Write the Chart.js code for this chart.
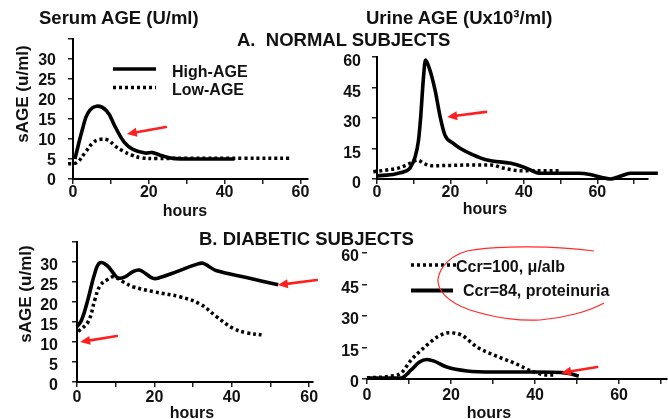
<!DOCTYPE html>
<html><head><meta charset="utf-8">
<title>Serum and urine AGE</title>
<script src="https://cdn.jsdelivr.net/npm/chart.js@4/dist/chart.umd.min.js"></script>
<style>
html,body{margin:0;padding:0;background:#fff;}
#page{position:relative;width:668px;height:419px;overflow:hidden;background:#fff;font-family:"Liberation Sans",Arial,Helvetica,sans-serif;font-weight:bold;color:#111;}
.t{position:absolute;white-space:pre;line-height:1;}
.c{position:absolute;}
.c canvas{display:block;}
#ov{position:absolute;left:0;top:0;}
</style></head><body>
<div id="page">
  <div class="c" style="left:0px;top:30px;width:330px;height:180px"><canvas id="cA1" width="330" height="180"></canvas></div>
  <div class="c" style="left:334px;top:40px;width:334px;height:170px"><canvas id="cA2" width="334" height="170"></canvas></div>
  <div class="c" style="left:0px;top:228px;width:334px;height:184px"><canvas id="cB1" width="334" height="184"></canvas></div>
  <div class="c" style="left:334px;top:238px;width:334px;height:172px"><canvas id="cB2" width="334" height="172"></canvas></div>

  <svg id="ov" width="668" height="419">
    <line id="lgA1" x1="113" y1="69" x2="156" y2="69" stroke="#000" stroke-width="3.5"/>
    <line id="lgA2" x1="113" y1="87.5" x2="156" y2="87.5" stroke="#000" stroke-width="3.5" stroke-dasharray="3 3"/>
    <line id="lgB1" x1="411" y1="265" x2="456" y2="265" stroke="#000" stroke-width="3.5" stroke-dasharray="3 3"/>
    <line id="lgB2" x1="411" y1="290.5" x2="453" y2="290.5" stroke="#000" stroke-width="4"/>
    <path d="M594,251 C560,246 495,245 467,251 C452,255 440,266 438,279 C437,290 447,302 470,310 C495,318 520,321 540,320 C565,318 590,311 604,303" fill="none" stroke="#ff2a2a" stroke-width="1.2"/>
  </svg>

  <div class="t" style="left:39px;top:9.3px;font-size:18.5px">Serum AGE (U/ml)</div>
  <div class="t" style="left:366px;top:9.3px;font-size:18.5px">Urine AGE (Ux10³/ml)</div>
  <div class="t" style="left:237px;top:31.3px;font-size:18.5px">A.  NORMAL SUBJECTS</div>
  <div class="t" style="left:199px;top:230.3px;font-size:18.5px">B. DIABETIC SUBJECTS</div>

  <div class="t" style="left:21.5px;top:93.5px;font-size:17px;transform:translate(-50%,-50%) rotate(-90deg)">sAGE (u/ml)</div>
  <div class="t" style="left:25px;top:294px;font-size:17px;transform:translate(-50%,-50%) rotate(-90deg)">sAGE (u/ml)</div>

  <div class="t" style="left:185px;top:202.5px;font-size:16px;transform:translateX(-50%)">hours</div>
  <div class="t" style="left:485px;top:200.5px;font-size:16px;transform:translateX(-50%)">hours</div>
  <div class="t" style="left:192px;top:404.5px;font-size:16px;transform:translateX(-50%)">hours</div>
  <div class="t" style="left:489px;top:404.5px;font-size:16px;transform:translateX(-50%)">hours</div>

  <div class="t" id="lgTA1" style="left:172px;top:63.5px;font-size:16px"></div>
  <div class="t" id="lgTA2" style="left:172px;top:82px;font-size:16px"></div>
  <div class="t" id="lgTB1" style="left:456px;top:258.5px;font-size:16px"></div>
  <div class="t" id="lgTB2" style="left:463px;top:282.5px;font-size:16px"></div>
</div>
<script>
// ---------- DATA ----------
const normalSeriesNames = ['High-AGE', 'Low-AGE'];
const diabeticUrineSeriesNames = ['Ccr=100, \u03bc/alb', 'Ccr=84, proteinuria'];

const xTickLabels = ['0', '20', '40', '60'];
const serumYTickLabels = ['0', '5', '10', '15', '20', '25', '30'];
const urineYTickLabels = ['0', '15', '30', '45', '60'];

// A. Normal subjects - serum AGE (u/ml)
const serumNormalHighHours = [0.5, 2.6, 4.0, 6.2, 8.9, 11.0, 13.5, 15.8, 19.0, 21.0, 23.5, 27, 32, 42.6];
const serumNormalHigh      = [5, 12.8, 16.6, 18.2, 17, 13.3, 9.2, 7.4, 6.5, 6.6, 5.8, 5.1, 5, 5];
const serumNormalLowHours  = [-1.3, 1, 3.2, 5.3, 7.1, 9.3, 11, 13.2, 15.4, 18, 22, 30, 45, 57.6];
const serumNormalLow       = [3.8, 4.1, 6.6, 9.1, 9.9, 9.7, 8.3, 7, 6, 5.3, 5.1, 5.2, 5.2, 5.2];

// A. Normal subjects - urine AGE (U x 10^3/ml)
const urineNormalHighHours = [0, 5, 8, 9, 10.4, 11.3, 11.9, 12.6, 13.2, 14.4, 15.8, 17.2, 18.5, 20.7, 22.6, 26, 30, 36.4, 40, 41.9, 44.1, 48, 55, 58, 61, 63.6, 66, 69, 73, 76.5];
const urineNormalHigh      = [1.5, 2.5, 4, 5.4, 11, 19, 30.6, 48.7, 58.5, 53.6, 43.8, 30.6, 21.6, 17.6, 15.1, 12, 9.3, 7.7, 5.8, 4.4, 2.8, 2.8, 2.8, 2.2, 0.8, 0, 1.2, 2.8, 2.8, 2.8];
const urineNormalLowHours  = [-1, 3, 6, 9, 11, 13, 15.3, 20, 26, 31, 34.3, 38, 42, 50];
const urineNormalLow       = [3.6, 4.5, 5.5, 7.7, 9.3, 7.4, 6.5, 6.7, 6.9, 6.9, 5.4, 4.2, 4.0, 4.0];

// B. Diabetic subjects - serum AGE (u/ml)
const serumDiabHighHours = [0, 1.2, 2.9, 4.6, 5.9, 7.7, 9.4, 10.6, 12.4, 14.5, 16.1, 17.6, 19.7, 21.4, 25.8, 30.9, 32.6, 34.4, 36.1, 43.8, 52];
const serumDiabHigh      = [13.8, 15.5, 20.9, 27.2, 29.8, 29.2, 27.2, 26, 26.3, 27.6, 28, 27.2, 25.9, 26.1, 27.6, 29.4, 29.7, 28.7, 27.8, 26.1, 24.3];
const serumDiabLowHours  = [0.3, 2.9, 4.6, 5.9, 7.7, 9.4, 12, 14.5, 19.7, 26.6, 31.8, 36.1, 40.4, 43.8, 47.7];
const serumDiabLow       = [12.6, 15.1, 20.5, 24, 25.5, 26.3, 25, 23.8, 22.6, 21.3, 19.5, 16.3, 13.4, 12.3, 11.8];

// B. Diabetic subjects - urine AGE
const urineDiabCcr100Hours = [0, 5.7, 8.1, 10.5, 13.6, 16.7, 19.5, 22.4, 26.2, 30.2, 35, 39.8, 42.9, 45];
const urineDiabCcr100      = [0.5, 1.4, 2.8, 9, 15, 20, 22, 21, 15.2, 11.4, 7.6, 3.3, 1.9, 1.9];
const urineDiabCcr84Hours  = [0, 8.1, 10.5, 12.4, 14.3, 16, 19, 23.8, 30.2, 39.8, 47.6, 50.4];
const urineDiabCcr84       = [0.5, 0.5, 4.3, 8, 9.3, 8.5, 5.7, 3.8, 3.3, 3.3, 2.8, 1.4];

// red arrow annotations (data coordinates: [hours, value])
const arrowsA1 = [{from: [24.5, 13], to: [14.2, 11.25]}];
const arrowsA2 = [{from: [29.7, 33], to: [19.1, 30.5]}];
const arrowsB1 = [{from: [62, 25.5], to: [51.9, 24.25]}, {from: [10.3, 11.5], to: [0.8, 10]}];
const arrowsB2 = [{from: [54.8, 5.7], to: [46.2, 2.9]}];

// ---------- RENDER ----------
document.getElementById('lgTA1').textContent = normalSeriesNames[0];
document.getElementById('lgTA2').textContent = normalSeriesNames[1];
document.getElementById('lgTB1').textContent = diabeticUrineSeriesNames[0];
document.getElementById('lgTB2').textContent = diabeticUrineSeriesNames[1];

const FONT = {family: '"Liberation Sans", Arial, Helvetica, sans-serif', size: 16, weight: 'bold'};

const arrowPlugin = {
  id: 'arrows',
  afterDraw(chart, args, opts) {
    const {ctx} = chart; const xs = chart.scales.x, ys = chart.scales.y;
    (opts.list || []).forEach(a => {
      const x1 = xs.getPixelForValue(a.from[0]), y1 = ys.getPixelForValue(a.from[1]);
      const x2 = xs.getPixelForValue(a.to[0]), y2 = ys.getPixelForValue(a.to[1]);
      const ang = Math.atan2(y2 - y1, x2 - x1), L = 10, W = 4.5;
      const c = Math.cos(ang), s = Math.sin(ang);
      ctx.save();
      ctx.strokeStyle = '#ff1f1f'; ctx.fillStyle = '#ff1f1f';
      ctx.lineWidth = 2.6; ctx.lineCap = 'round';
      ctx.beginPath(); ctx.moveTo(x1, y1); ctx.lineTo(x2 - L * 0.7 * c, y2 - L * 0.7 * s); ctx.stroke();
      ctx.beginPath(); ctx.moveTo(x2, y2);
      ctx.lineTo(x2 - L * c + W * s, y2 - L * s - W * c);
      ctx.lineTo(x2 - L * c - W * s, y2 - L * s + W * c);
      ctx.closePath(); ctx.fill();
      ctx.restore();
    });
  }
};

function series(xs, ys, dotted, mode) {
  return {
    data: xs.map((x, i) => ({x: x, y: ys[i]})),
    borderColor: '#000', borderWidth: dotted ? 3.5 : 3.6,
    borderDash: dotted ? [3, 3] : [], borderCapStyle: 'butt', borderJoinStyle: 'round',
    pointRadius: 0, tension: 0.4, cubicInterpolationMode: mode, fill: false, clip: false
  };
}

function panel(id, o) {
  const cv = document.getElementById(id);
  const W = cv.width, H = cv.height;
  return new Chart(cv, {
    type: 'line',
    data: {datasets: o.datasets},
    options: {
      responsive: false, animation: false, devicePixelRatio: 1,
      layout: {padding: {left: 0, top: o.area.top, right: W - o.area.right, bottom: 0}},
      plugins: {legend: {display: false}, tooltip: {enabled: false}, arrows: {list: o.arrows}},
      scales: {
        x: {
          type: 'linear', min: 0, max: o.xmax,
          afterFit(s) { s.height = H - o.area.bottom; s.paddingLeft = 0; s.paddingRight = 0; },
          ticks: {stepSize: 10, includeBounds: false, autoSkip: false, maxRotation: 0, minRotation: 0,
                  padding: o.xpad, font: FONT, color: '#111',
                  callback: v => xTickLabels.includes(String(v)) ? String(v) : ''},
          grid: {drawOnChartArea: false, drawTicks: true, tickLength: 5, color: '#222', lineWidth: 1.5},
          border: {display: true, color: '#000', width: 2}
        },
        y: {
          type: 'linear', min: 0, max: o.ymax,
          afterFit(s) { s.width = o.area.left; s.paddingTop = 0; s.paddingBottom = 0; },
          ticks: {stepSize: o.ystep, includeBounds: false, autoSkip: false, padding: o.ypad,
                  labelOffset: o.yoff, font: FONT, color: '#111',
                  callback: v => o.ylabels.includes(String(v)) ? String(v) : ''},
          grid: {drawOnChartArea: false, drawTicks: true, tickLength: 5, color: '#222', lineWidth: 1.5},
          border: {display: o.yborder, color: '#000', width: 2}
        }
      }
    },
    plugins: [arrowPlugin]
  });
}

// canvas-relative chart areas
panel('cA1', {
  area: {left: 73, right: 308, top: 9, bottom: 149}, xmax: 62, ymax: 35, ystep: 5,
  ylabels: serumYTickLabels, ypad: 12, yoff: 2, xpad: -1, yborder: true,
  datasets: [series(serumNormalHighHours, serumNormalHigh, false, 'default'), series(serumNormalLowHours, serumNormalLow, true, 'default')],
  arrows: arrowsA1
});
panel('cA2', {
  area: {left: 43, right: 314, top: 17, bottom: 139}, xmax: 73.8, ymax: 60, ystep: 15,
  ylabels: urineYTickLabels, ypad: 11, yoff: 5, xpad: -1, yborder: true,
  datasets: [series(urineNormalHighHours, urineNormalHigh, false, 'monotone'), series(urineNormalLowHours, urineNormalLow, true, 'monotone')],
  arrows: arrowsA2
});
panel('cB1', {
  area: {left: 77, right: 313, top: 14, bottom: 154}, xmax: 61, ymax: 35, ystep: 5,
  ylabels: serumYTickLabels, ypad: 14, yoff: 4, xpad: 1, yborder: true,
  datasets: [series(serumDiabHighHours, serumDiabHigh, false, 'default'), series(serumDiabLowHours, serumDiabLow, true, 'default')],
  arrows: arrowsB1
});
panel('cB2', {
  area: {left: 33, right: 333, top: 15, bottom: 141}, xmax: 71.4, ymax: 60, ystep: 15,
  ylabels: urineYTickLabels, ypad: 3, yoff: 4, xpad: 2, yborder: false,
  datasets: [series(urineDiabCcr100Hours, urineDiabCcr100, true, 'monotone'), series(urineDiabCcr84Hours, urineDiabCcr84, false, 'monotone')],
  arrows: arrowsB2
});
</script>
</body></html>
